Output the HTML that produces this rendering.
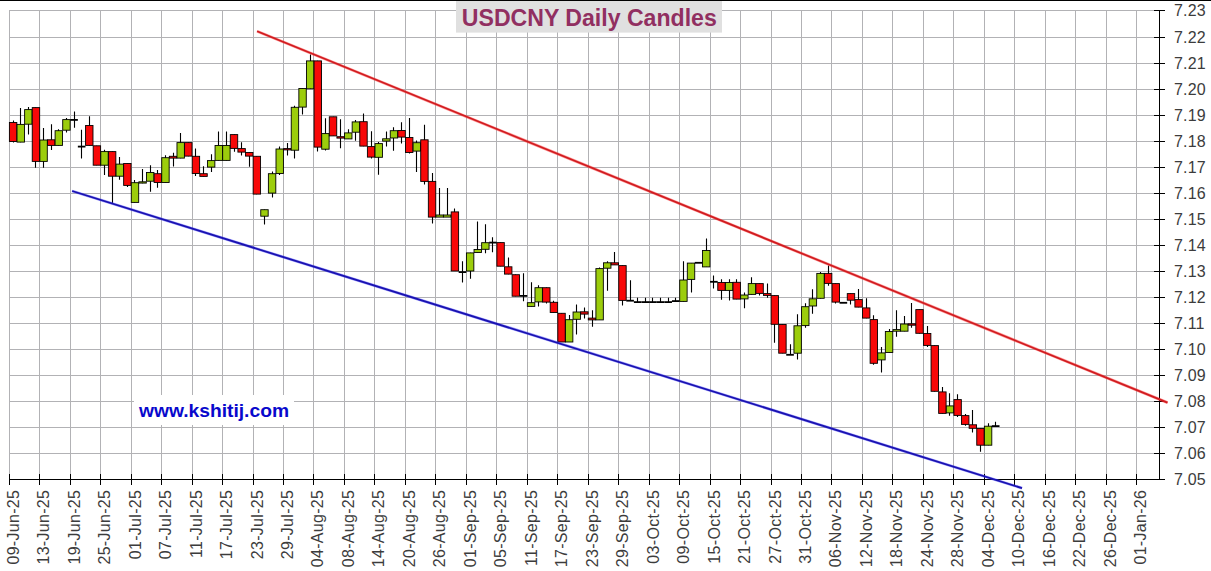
<!DOCTYPE html>
<html lang="en"><head><meta charset="utf-8"><title>USDCNY Daily Candles</title>
<style>
html,body{margin:0;padding:0;background:#fff;}
body{width:1211px;height:571px;overflow:hidden;font-family:"Liberation Sans",Arial,sans-serif;}
svg{display:block;}
</style></head><body>
<svg width="1211" height="571" viewBox="0 0 1211 571">
<rect width="1211" height="571" fill="#fff"/>
<path d="M9.5 10.5V479.5M39.5 10.5V479.5M70.5 10.5V479.5M100.5 10.5V479.5M131.5 10.5V479.5M161.5 10.5V479.5M192.5 10.5V479.5M222.5 10.5V479.5M253.5 10.5V479.5M283.5 10.5V479.5M313.5 10.5V479.5M344.5 10.5V479.5M374.5 10.5V479.5M405.5 10.5V479.5M435.5 10.5V479.5M466.5 10.5V479.5M496.5 10.5V479.5M527.5 10.5V479.5M557.5 10.5V479.5M588.5 10.5V479.5M618.5 10.5V479.5M649.5 10.5V479.5M679.5 10.5V479.5M710.5 10.5V479.5M740.5 10.5V479.5M771.5 10.5V479.5M801.5 10.5V479.5M831.5 10.5V479.5M862.5 10.5V479.5M892.5 10.5V479.5M923.5 10.5V479.5M953.5 10.5V479.5M984.5 10.5V479.5M1014.5 10.5V479.5M1045.5 10.5V479.5M1075.5 10.5V479.5M1106.5 10.5V479.5M1136.5 10.5V479.5M9.0 10.5H1159.5M9.0 37.5H1159.5M9.0 63.5H1159.5M9.0 89.5H1159.5M9.0 115.5H1159.5M9.0 141.5H1159.5M9.0 167.5H1159.5M9.0 193.5H1159.5M9.0 219.5H1159.5M9.0 245.5H1159.5M9.0 271.5H1159.5M9.0 297.5H1159.5M9.0 323.5H1159.5M9.0 349.5H1159.5M9.0 375.5H1159.5M9.0 401.5H1159.5M9.0 427.5H1159.5M9.0 453.5H1159.5M9.0 479.5H1159.5" stroke="#b2b2b5" stroke-width="1" fill="none" shape-rendering="crispEdges"/>
<rect x="134" y="395" width="160" height="30" fill="#fff"/>
<path d="M9.0 479.5H1160.0M1159.5 10.0V480.0M9.5 474V485M39.5 474V485M70.5 474V485M100.5 474V485M131.5 474V485M161.5 474V485M192.5 474V485M222.5 474V485M253.5 474V485M283.5 474V485M313.5 474V485M344.5 474V485M374.5 474V485M405.5 474V485M435.5 474V485M466.5 474V485M496.5 474V485M527.5 474V485M557.5 474V485M588.5 474V485M618.5 474V485M649.5 474V485M679.5 474V485M710.5 474V485M740.5 474V485M771.5 474V485M801.5 474V485M831.5 474V485M862.5 474V485M892.5 474V485M923.5 474V485M953.5 474V485M984.5 474V485M1014.5 474V485M1045.5 474V485M1075.5 474V485M1106.5 474V485M1136.5 474V485M1154 10.5H1165M1154 37.5H1165M1154 63.5H1165M1154 89.5H1165M1154 115.5H1165M1154 141.5H1165M1154 167.5H1165M1154 193.5H1165M1154 219.5H1165M1154 245.5H1165M1154 271.5H1165M1154 297.5H1165M1154 323.5H1165M1154 349.5H1165M1154 375.5H1165M1154 401.5H1165M1154 427.5H1165M1154 453.5H1165M1154 479.5H1165" stroke="#000" stroke-width="1" fill="none" shape-rendering="crispEdges"/>
<rect x="456" y="1" width="266" height="31.6" fill="#e0e0e0"/>
<rect x="0" y="0" width="1211" height="1" fill="#000"/>
<text x="589.3" y="25.7" text-anchor="middle" font-family="Liberation Sans, Arial, sans-serif" font-weight="bold" font-size="23.1" fill="#912f61">USDCNY Daily Candles</text>
<text x="214" y="417.2" text-anchor="middle" font-family="Liberation Sans, Arial, sans-serif" font-weight="bold" font-size="19.25" fill="#0808cc">www.kshitij.com</text>
<g font-family="Liberation Sans, Arial, sans-serif" font-size="16" fill="#3c3c3c">
<text x="1174.0" y="16.2" letter-spacing="0.15">7.23</text>
<text x="1174.0" y="43.2" letter-spacing="0.15">7.22</text>
<text x="1174.0" y="69.2" letter-spacing="0.15">7.21</text>
<text x="1174.0" y="95.2" letter-spacing="0.15">7.20</text>
<text x="1174.0" y="121.2" letter-spacing="0.15">7.19</text>
<text x="1174.0" y="147.2" letter-spacing="0.15">7.18</text>
<text x="1174.0" y="173.2" letter-spacing="0.15">7.17</text>
<text x="1174.0" y="199.2" letter-spacing="0.15">7.16</text>
<text x="1174.0" y="225.2" letter-spacing="0.15">7.15</text>
<text x="1174.0" y="251.2" letter-spacing="0.15">7.14</text>
<text x="1174.0" y="277.2" letter-spacing="0.15">7.13</text>
<text x="1174.0" y="303.2" letter-spacing="0.15">7.12</text>
<text x="1174.0" y="329.2" letter-spacing="0.15">7.11</text>
<text x="1174.0" y="355.2" letter-spacing="0.15">7.10</text>
<text x="1174.0" y="381.2" letter-spacing="0.15">7.09</text>
<text x="1174.0" y="407.2" letter-spacing="0.15">7.08</text>
<text x="1174.0" y="433.2" letter-spacing="0.15">7.07</text>
<text x="1174.0" y="459.2" letter-spacing="0.15">7.06</text>
<text x="1174.0" y="485.2" letter-spacing="0.15">7.05</text>
<text transform="translate(19.2 489.8) rotate(-90)" text-anchor="end" letter-spacing="0.3">09-Jun-25</text>
<text transform="translate(49.2 489.8) rotate(-90)" text-anchor="end" letter-spacing="0.3">13-Jun-25</text>
<text transform="translate(80.2 489.8) rotate(-90)" text-anchor="end" letter-spacing="0.3">19-Jun-25</text>
<text transform="translate(110.2 489.8) rotate(-90)" text-anchor="end" letter-spacing="0.3">25-Jun-25</text>
<text transform="translate(141.2 489.8) rotate(-90)" text-anchor="end" letter-spacing="0.3">01-Jul-25</text>
<text transform="translate(171.2 489.8) rotate(-90)" text-anchor="end" letter-spacing="0.3">07-Jul-25</text>
<text transform="translate(202.2 489.8) rotate(-90)" text-anchor="end" letter-spacing="0.3">11-Jul-25</text>
<text transform="translate(232.2 489.8) rotate(-90)" text-anchor="end" letter-spacing="0.3">17-Jul-25</text>
<text transform="translate(263.2 489.8) rotate(-90)" text-anchor="end" letter-spacing="0.3">23-Jul-25</text>
<text transform="translate(293.2 489.8) rotate(-90)" text-anchor="end" letter-spacing="0.3">29-Jul-25</text>
<text transform="translate(323.2 489.8) rotate(-90)" text-anchor="end" letter-spacing="0.3">04-Aug-25</text>
<text transform="translate(354.2 489.8) rotate(-90)" text-anchor="end" letter-spacing="0.3">08-Aug-25</text>
<text transform="translate(384.2 489.8) rotate(-90)" text-anchor="end" letter-spacing="0.3">14-Aug-25</text>
<text transform="translate(415.2 489.8) rotate(-90)" text-anchor="end" letter-spacing="0.3">20-Aug-25</text>
<text transform="translate(445.2 489.8) rotate(-90)" text-anchor="end" letter-spacing="0.3">26-Aug-25</text>
<text transform="translate(476.2 489.8) rotate(-90)" text-anchor="end" letter-spacing="0.3">01-Sep-25</text>
<text transform="translate(506.2 489.8) rotate(-90)" text-anchor="end" letter-spacing="0.3">05-Sep-25</text>
<text transform="translate(537.2 489.8) rotate(-90)" text-anchor="end" letter-spacing="0.3">11-Sep-25</text>
<text transform="translate(567.2 489.8) rotate(-90)" text-anchor="end" letter-spacing="0.3">17-Sep-25</text>
<text transform="translate(598.2 489.8) rotate(-90)" text-anchor="end" letter-spacing="0.3">23-Sep-25</text>
<text transform="translate(628.2 489.8) rotate(-90)" text-anchor="end" letter-spacing="0.3">29-Sep-25</text>
<text transform="translate(659.2 489.8) rotate(-90)" text-anchor="end" letter-spacing="0.3">03-Oct-25</text>
<text transform="translate(689.2 489.8) rotate(-90)" text-anchor="end" letter-spacing="0.3">09-Oct-25</text>
<text transform="translate(720.2 489.8) rotate(-90)" text-anchor="end" letter-spacing="0.3">15-Oct-25</text>
<text transform="translate(750.2 489.8) rotate(-90)" text-anchor="end" letter-spacing="0.3">21-Oct-25</text>
<text transform="translate(781.2 489.8) rotate(-90)" text-anchor="end" letter-spacing="0.3">27-Oct-25</text>
<text transform="translate(811.2 489.8) rotate(-90)" text-anchor="end" letter-spacing="0.3">31-Oct-25</text>
<text transform="translate(841.2 489.8) rotate(-90)" text-anchor="end" letter-spacing="0.3">06-Nov-25</text>
<text transform="translate(872.2 489.8) rotate(-90)" text-anchor="end" letter-spacing="0.3">12-Nov-25</text>
<text transform="translate(902.2 489.8) rotate(-90)" text-anchor="end" letter-spacing="0.3">18-Nov-25</text>
<text transform="translate(933.2 489.8) rotate(-90)" text-anchor="end" letter-spacing="0.3">24-Nov-25</text>
<text transform="translate(963.2 489.8) rotate(-90)" text-anchor="end" letter-spacing="0.3">28-Nov-25</text>
<text transform="translate(994.2 489.8) rotate(-90)" text-anchor="end" letter-spacing="0.3">04-Dec-25</text>
<text transform="translate(1024.2 489.8) rotate(-90)" text-anchor="end" letter-spacing="0.3">10-Dec-25</text>
<text transform="translate(1055.2 489.8) rotate(-90)" text-anchor="end" letter-spacing="0.3">16-Dec-25</text>
<text transform="translate(1085.2 489.8) rotate(-90)" text-anchor="end" letter-spacing="0.3">22-Dec-25</text>
<text transform="translate(1116.2 489.8) rotate(-90)" text-anchor="end" letter-spacing="0.3">26-Dec-25</text>
<text transform="translate(1146.2 489.8) rotate(-90)" text-anchor="end" letter-spacing="0.3">01-Jan-26</text>
</g>
<path d="M13.5 120.4V142.6M20.5 108.1V142.2M28.5 107.0V134.5M35.5 107.5V167.8M43.5 128.1V167.8M51.5 124.3V149.9M58.5 129.3V145.5M66.5 118.1V132.6M74.5 111.4V127.8M81.5 129.7V158.6M89.5 116.2V145.5M96.5 145.7V165.3M104.5 149.8V175.0M112.5 151.5V203.0M119.5 157.0V179.8M127.5 163.4V186.9M134.5 180.1V202.5M142.5 169.1V183.2M150.5 165.3V191.7M157.5 170.1V187.8M165.5 155.3V182.6M173.5 152.8V166.6M180.5 133.1V158.2M188.5 142.5V156.2M195.5 148.5V175.9M203.5 166.2V176.5M211.5 154.3V172.0M218.5 131.6V160.5M226.5 131.6V160.5M234.5 134.5V151.8M241.5 142.2V155.6M249.5 152.4V166.8M256.5 156.2V194.2M264.5 209.6V224.6M272.5 171.6V197.6M279.5 146.6V174.9M287.5 143.1V155.6M294.5 105.7V158.5M302.5 88.4V114.4M310.5 54.5V88.9M317.5 60.8V151.4M325.5 118.2V150.4M333.5 116.7V136.0M340.5 119.2V148.3M348.5 129.2V139.0M355.5 120.1V140.8M363.5 113.4V146.2M371.5 131.2V158.4M378.5 142.0V174.7M386.5 131.6V146.4M393.5 127.2V150.7M401.5 122.3V143.5M409.5 118.1V153.6M416.5 140.6V171.9M424.5 124.8V184.4M432.5 173.0V223.4M439.5 188.1V217.0M447.5 188.1V217.0M454.5 208.5V271.1M462.5 261.3V282.5M470.5 252.8V278.7M477.5 221.4V252.6M485.5 224.3V253.2M492.5 237.2V252.3M500.5 242.5V266.3M508.5 257.4V274.2M515.5 274.6V296.3M523.5 273.2V301.3M531.5 282.3V306.5M538.5 285.3V306.5M546.5 287.6V303.6M553.5 300.7V312.6M561.5 313.2V342.1M569.5 315.1V342.1M576.5 304.5V334.4M584.5 307.4V318.6M592.5 310.3V326.7M599.5 267.4V320.0M607.5 261.2V290.7M614.5 252.1V265.0M622.5 265.5V305.5M630.5 280.3V300.7M637.5 297.8V302.1M645.5 297.8V302.1M652.5 297.8V302.1M660.5 297.8V302.1M668.5 297.8V302.1M675.5 297.8V301.1M683.5 261.2V301.5M691.5 263.0V292.4M706.5 238.5V267.0M713.5 275.5V288.6M721.5 279.3V299.8M729.5 279.3V300.5M736.5 279.3V299.2M744.5 292.6V308.3M751.5 277.2V294.5M759.5 283.5V295.5M767.5 283.5V297.8M774.5 295.5V342.7M782.5 324.4V353.3M790.5 344.2V354.8M797.5 314.3V359.6M805.5 303.2V327.8M812.5 289.3V313.8M820.5 272.0V298.4M828.5 265.6V285.8M835.5 283.5V303.6M850.5 293.5V304.5M858.5 289.0V307.2M866.5 298.3V318.2M873.5 315.3V364.8M881.5 347.1V372.5M889.5 329.1V352.6M896.5 310.3V336.8M904.5 316.0V331.3M911.5 303.1V327.8M919.5 309.5V333.4M927.5 325.9V346.9M934.5 345.5V391.4M942.5 387.0V413.5M949.5 393.3V415.8M957.5 394.3V417.0M965.5 414.1V425.7M972.5 410.1V432.4M980.5 428.4V451.7M988.5 423.2V445.3M995.5 421.8V426.1" stroke="#000" stroke-width="1.1" fill="none"/>
<rect x="9.40" y="122.5" width="7.42" height="19.0" fill="#f80808" stroke="#000" stroke-width="0.9"/>
<rect x="17.02" y="124.4" width="7.42" height="17.7" fill="#9ccd0c" stroke="#000" stroke-width="0.9"/>
<rect x="24.63" y="109.6" width="7.42" height="14.6" fill="#9ccd0c" stroke="#000" stroke-width="0.9"/>
<rect x="32.25" y="107.6" width="7.42" height="53.8" fill="#f80808" stroke="#000" stroke-width="0.9"/>
<rect x="39.87" y="140.0" width="7.42" height="21.4" fill="#9ccd0c" stroke="#000" stroke-width="0.9"/>
<rect x="47.49" y="139.8" width="7.42" height="5.6" fill="#f80808" stroke="#000" stroke-width="0.9"/>
<rect x="55.10" y="130.7" width="7.42" height="14.7" fill="#9ccd0c" stroke="#000" stroke-width="0.9"/>
<rect x="62.72" y="119.6" width="7.42" height="10.6" fill="#9ccd0c" stroke="#000" stroke-width="0.9"/>
<rect x="70.24" y="119.0" width="7.62" height="1.8" fill="#000"/>
<rect x="77.85" y="145.7" width="7.62" height="1.8" fill="#000"/>
<rect x="85.57" y="125.5" width="7.42" height="19.9" fill="#f80808" stroke="#000" stroke-width="0.9"/>
<rect x="93.19" y="145.8" width="7.42" height="19.4" fill="#f80808" stroke="#000" stroke-width="0.9"/>
<rect x="100.80" y="151.6" width="7.42" height="13.6" fill="#9ccd0c" stroke="#000" stroke-width="0.9"/>
<rect x="108.42" y="151.6" width="7.42" height="24.6" fill="#f80808" stroke="#000" stroke-width="0.9"/>
<rect x="116.04" y="164.1" width="7.42" height="12.1" fill="#9ccd0c" stroke="#000" stroke-width="0.9"/>
<rect x="123.65" y="163.5" width="7.42" height="21.9" fill="#f80808" stroke="#000" stroke-width="0.9"/>
<rect x="131.27" y="182.7" width="7.42" height="19.7" fill="#9ccd0c" stroke="#000" stroke-width="0.9"/>
<rect x="138.89" y="181.8" width="7.42" height="1.3" fill="#9ccd0c" stroke="#000" stroke-width="0.9"/>
<rect x="146.51" y="172.5" width="7.42" height="8.7" fill="#9ccd0c" stroke="#000" stroke-width="0.9"/>
<rect x="154.12" y="173.7" width="7.42" height="8.8" fill="#f80808" stroke="#000" stroke-width="0.9"/>
<rect x="161.74" y="157.7" width="7.42" height="24.8" fill="#9ccd0c" stroke="#000" stroke-width="0.9"/>
<rect x="169.36" y="156.3" width="7.42" height="1.8" fill="#f80808" stroke="#000" stroke-width="0.9"/>
<rect x="176.97" y="142.6" width="7.42" height="15.5" fill="#9ccd0c" stroke="#000" stroke-width="0.9"/>
<rect x="184.59" y="142.6" width="7.42" height="13.5" fill="#f80808" stroke="#000" stroke-width="0.9"/>
<rect x="192.21" y="156.3" width="7.42" height="17.2" fill="#f80808" stroke="#000" stroke-width="0.9"/>
<rect x="199.83" y="173.7" width="7.42" height="2.7" fill="#f80808" stroke="#000" stroke-width="0.9"/>
<rect x="207.44" y="160.6" width="7.42" height="6.5" fill="#9ccd0c" stroke="#000" stroke-width="0.9"/>
<rect x="215.06" y="145.5" width="7.42" height="14.9" fill="#9ccd0c" stroke="#000" stroke-width="0.9"/>
<rect x="222.68" y="145.5" width="7.42" height="14.9" fill="#9ccd0c" stroke="#000" stroke-width="0.9"/>
<rect x="230.29" y="134.6" width="7.42" height="13.8" fill="#f80808" stroke="#000" stroke-width="0.9"/>
<rect x="237.91" y="148.6" width="7.42" height="3.5" fill="#f80808" stroke="#000" stroke-width="0.9"/>
<rect x="245.53" y="152.5" width="7.42" height="3.6" fill="#f80808" stroke="#000" stroke-width="0.9"/>
<rect x="253.14" y="156.3" width="7.42" height="37.8" fill="#f80808" stroke="#000" stroke-width="0.9"/>
<rect x="260.76" y="209.7" width="7.42" height="6.5" fill="#9ccd0c" stroke="#000" stroke-width="0.9"/>
<rect x="268.38" y="173.7" width="7.42" height="19.4" fill="#9ccd0c" stroke="#000" stroke-width="0.9"/>
<rect x="276.00" y="149.0" width="7.42" height="24.5" fill="#9ccd0c" stroke="#000" stroke-width="0.9"/>
<rect x="283.61" y="148.6" width="7.42" height="1.3" fill="#f80808" stroke="#000" stroke-width="0.9"/>
<rect x="291.23" y="107.3" width="7.42" height="42.9" fill="#9ccd0c" stroke="#000" stroke-width="0.9"/>
<rect x="298.85" y="88.5" width="7.42" height="18.6" fill="#9ccd0c" stroke="#000" stroke-width="0.9"/>
<rect x="306.46" y="60.9" width="7.42" height="27.9" fill="#9ccd0c" stroke="#000" stroke-width="0.9"/>
<rect x="314.08" y="60.9" width="7.42" height="86.2" fill="#f80808" stroke="#000" stroke-width="0.9"/>
<rect x="321.70" y="133.6" width="7.42" height="15.6" fill="#9ccd0c" stroke="#000" stroke-width="0.9"/>
<rect x="329.31" y="116.8" width="7.42" height="19.1" fill="#f80808" stroke="#000" stroke-width="0.9"/>
<rect x="336.93" y="136.7" width="7.42" height="1.4" fill="#f80808" stroke="#000" stroke-width="0.9"/>
<rect x="344.55" y="132.9" width="7.42" height="6.0" fill="#9ccd0c" stroke="#000" stroke-width="0.9"/>
<rect x="352.17" y="121.9" width="7.42" height="10.3" fill="#9ccd0c" stroke="#000" stroke-width="0.9"/>
<rect x="359.78" y="121.7" width="7.42" height="24.4" fill="#f80808" stroke="#000" stroke-width="0.9"/>
<rect x="367.40" y="146.6" width="7.42" height="10.5" fill="#f80808" stroke="#000" stroke-width="0.9"/>
<rect x="375.02" y="143.6" width="7.42" height="13.7" fill="#9ccd0c" stroke="#000" stroke-width="0.9"/>
<rect x="382.63" y="138.8" width="7.42" height="2.3" fill="#9ccd0c" stroke="#000" stroke-width="0.9"/>
<rect x="390.25" y="130.7" width="7.42" height="7.3" fill="#9ccd0c" stroke="#000" stroke-width="0.9"/>
<rect x="397.87" y="130.5" width="7.42" height="6.6" fill="#f80808" stroke="#000" stroke-width="0.9"/>
<rect x="405.48" y="137.5" width="7.42" height="15.0" fill="#f80808" stroke="#000" stroke-width="0.9"/>
<rect x="413.10" y="142.7" width="7.42" height="8.4" fill="#9ccd0c" stroke="#000" stroke-width="0.9"/>
<rect x="420.72" y="139.8" width="7.42" height="41.6" fill="#f80808" stroke="#000" stroke-width="0.9"/>
<rect x="428.34" y="181.4" width="7.42" height="35.7" fill="#f80808" stroke="#000" stroke-width="0.9"/>
<rect x="435.95" y="215.0" width="7.42" height="2.1" fill="#9ccd0c" stroke="#000" stroke-width="0.9"/>
<rect x="443.57" y="215.0" width="7.42" height="2.1" fill="#9ccd0c" stroke="#000" stroke-width="0.9"/>
<rect x="451.19" y="211.9" width="7.42" height="59.1" fill="#f80808" stroke="#000" stroke-width="0.9"/>
<rect x="458.70" y="271.2" width="7.62" height="1.8" fill="#000"/>
<rect x="466.42" y="252.9" width="7.42" height="18.1" fill="#9ccd0c" stroke="#000" stroke-width="0.9"/>
<rect x="474.04" y="249.5" width="7.42" height="3.0" fill="#9ccd0c" stroke="#000" stroke-width="0.9"/>
<rect x="481.65" y="242.7" width="7.42" height="6.6" fill="#9ccd0c" stroke="#000" stroke-width="0.9"/>
<rect x="489.17" y="241.7" width="7.62" height="1.8" fill="#000"/>
<rect x="496.89" y="242.6" width="7.42" height="23.6" fill="#f80808" stroke="#000" stroke-width="0.9"/>
<rect x="504.51" y="266.8" width="7.42" height="7.3" fill="#f80808" stroke="#000" stroke-width="0.9"/>
<rect x="512.12" y="274.7" width="7.42" height="21.5" fill="#f80808" stroke="#000" stroke-width="0.9"/>
<rect x="519.64" y="295.0" width="7.62" height="1.8" fill="#000"/>
<rect x="527.36" y="302.7" width="7.42" height="3.7" fill="#9ccd0c" stroke="#000" stroke-width="0.9"/>
<rect x="534.97" y="287.7" width="7.42" height="14.2" fill="#9ccd0c" stroke="#000" stroke-width="0.9"/>
<rect x="542.59" y="287.7" width="7.42" height="14.4" fill="#f80808" stroke="#000" stroke-width="0.9"/>
<rect x="550.21" y="302.3" width="7.42" height="10.2" fill="#f80808" stroke="#000" stroke-width="0.9"/>
<rect x="557.82" y="313.3" width="7.42" height="28.7" fill="#f80808" stroke="#000" stroke-width="0.9"/>
<rect x="565.44" y="319.7" width="7.42" height="22.3" fill="#9ccd0c" stroke="#000" stroke-width="0.9"/>
<rect x="573.06" y="312.0" width="7.42" height="7.3" fill="#9ccd0c" stroke="#000" stroke-width="0.9"/>
<rect x="580.67" y="311.8" width="7.42" height="2.3" fill="#f80808" stroke="#000" stroke-width="0.9"/>
<rect x="588.29" y="318.1" width="7.42" height="1.8" fill="#f80808" stroke="#000" stroke-width="0.9"/>
<rect x="595.91" y="268.6" width="7.42" height="51.3" fill="#9ccd0c" stroke="#000" stroke-width="0.9"/>
<rect x="603.53" y="262.8" width="7.42" height="5.4" fill="#9ccd0c" stroke="#000" stroke-width="0.9"/>
<rect x="611.14" y="262.8" width="7.42" height="2.1" fill="#f80808" stroke="#000" stroke-width="0.9"/>
<rect x="618.76" y="265.6" width="7.42" height="34.8" fill="#f80808" stroke="#000" stroke-width="0.9"/>
<rect x="626.28" y="299.8" width="7.62" height="1.8" fill="#000"/>
<rect x="633.89" y="301.2" width="7.62" height="1.8" fill="#000"/>
<rect x="641.51" y="301.2" width="7.62" height="1.8" fill="#000"/>
<rect x="649.13" y="301.2" width="7.62" height="1.8" fill="#000"/>
<rect x="656.75" y="301.2" width="7.62" height="1.8" fill="#000"/>
<rect x="664.36" y="301.2" width="7.62" height="1.8" fill="#000"/>
<rect x="671.98" y="300.2" width="7.62" height="1.8" fill="#000"/>
<rect x="679.70" y="280.0" width="7.42" height="21.4" fill="#9ccd0c" stroke="#000" stroke-width="0.9"/>
<rect x="687.31" y="263.1" width="7.42" height="16.3" fill="#9ccd0c" stroke="#000" stroke-width="0.9"/>
<rect x="694.83" y="261.9" width="7.62" height="1.8" fill="#000"/>
<rect x="702.55" y="250.5" width="7.42" height="16.4" fill="#9ccd0c" stroke="#000" stroke-width="0.9"/>
<rect x="710.06" y="280.9" width="7.62" height="1.8" fill="#000"/>
<rect x="717.78" y="282.5" width="7.42" height="7.9" fill="#f80808" stroke="#000" stroke-width="0.9"/>
<rect x="725.40" y="282.5" width="7.42" height="7.9" fill="#9ccd0c" stroke="#000" stroke-width="0.9"/>
<rect x="733.01" y="282.3" width="7.42" height="16.8" fill="#f80808" stroke="#000" stroke-width="0.9"/>
<rect x="740.63" y="295.0" width="7.42" height="3.9" fill="#9ccd0c" stroke="#000" stroke-width="0.9"/>
<rect x="748.25" y="283.6" width="7.42" height="10.8" fill="#9ccd0c" stroke="#000" stroke-width="0.9"/>
<rect x="755.87" y="283.6" width="7.42" height="9.8" fill="#f80808" stroke="#000" stroke-width="0.9"/>
<rect x="763.48" y="293.6" width="7.42" height="1.8" fill="#f80808" stroke="#000" stroke-width="0.9"/>
<rect x="771.10" y="295.6" width="7.42" height="28.7" fill="#f80808" stroke="#000" stroke-width="0.9"/>
<rect x="778.72" y="324.5" width="7.42" height="28.7" fill="#f80808" stroke="#000" stroke-width="0.9"/>
<rect x="786.23" y="353.9" width="7.62" height="1.8" fill="#000"/>
<rect x="793.95" y="325.8" width="7.42" height="27.4" fill="#9ccd0c" stroke="#000" stroke-width="0.9"/>
<rect x="801.57" y="306.7" width="7.42" height="18.9" fill="#9ccd0c" stroke="#000" stroke-width="0.9"/>
<rect x="809.18" y="298.8" width="7.42" height="7.2" fill="#9ccd0c" stroke="#000" stroke-width="0.9"/>
<rect x="816.80" y="273.4" width="7.42" height="24.9" fill="#9ccd0c" stroke="#000" stroke-width="0.9"/>
<rect x="824.42" y="273.4" width="7.42" height="10.0" fill="#f80808" stroke="#000" stroke-width="0.9"/>
<rect x="832.04" y="283.6" width="7.42" height="18.5" fill="#f80808" stroke="#000" stroke-width="0.9"/>
<rect x="839.55" y="301.9" width="7.62" height="1.8" fill="#000"/>
<rect x="847.27" y="293.6" width="7.42" height="6.6" fill="#f80808" stroke="#000" stroke-width="0.9"/>
<rect x="854.89" y="299.6" width="7.42" height="7.5" fill="#f80808" stroke="#000" stroke-width="0.9"/>
<rect x="862.50" y="307.9" width="7.42" height="10.2" fill="#f80808" stroke="#000" stroke-width="0.9"/>
<rect x="870.12" y="319.6" width="7.42" height="43.7" fill="#f80808" stroke="#000" stroke-width="0.9"/>
<rect x="877.74" y="352.9" width="7.42" height="7.0" fill="#9ccd0c" stroke="#000" stroke-width="0.9"/>
<rect x="885.36" y="331.5" width="7.42" height="21.0" fill="#9ccd0c" stroke="#000" stroke-width="0.9"/>
<rect x="892.97" y="329.6" width="7.42" height="1.6" fill="#9ccd0c" stroke="#000" stroke-width="0.9"/>
<rect x="900.59" y="324.0" width="7.42" height="7.2" fill="#9ccd0c" stroke="#000" stroke-width="0.9"/>
<rect x="908.21" y="323.8" width="7.42" height="1.4" fill="#f80808" stroke="#000" stroke-width="0.9"/>
<rect x="915.82" y="309.6" width="7.42" height="23.7" fill="#f80808" stroke="#000" stroke-width="0.9"/>
<rect x="923.44" y="333.5" width="7.42" height="11.9" fill="#f80808" stroke="#000" stroke-width="0.9"/>
<rect x="931.06" y="345.6" width="7.42" height="45.7" fill="#f80808" stroke="#000" stroke-width="0.9"/>
<rect x="938.67" y="391.9" width="7.42" height="21.5" fill="#f80808" stroke="#000" stroke-width="0.9"/>
<rect x="946.29" y="405.9" width="7.42" height="7.0" fill="#9ccd0c" stroke="#000" stroke-width="0.9"/>
<rect x="953.91" y="399.6" width="7.42" height="15.8" fill="#f80808" stroke="#000" stroke-width="0.9"/>
<rect x="961.52" y="415.6" width="7.42" height="8.8" fill="#f80808" stroke="#000" stroke-width="0.9"/>
<rect x="969.14" y="424.8" width="7.42" height="3.5" fill="#f80808" stroke="#000" stroke-width="0.9"/>
<rect x="976.76" y="428.5" width="7.42" height="16.7" fill="#f80808" stroke="#000" stroke-width="0.9"/>
<rect x="984.38" y="426.2" width="7.42" height="19.0" fill="#9ccd0c" stroke="#000" stroke-width="0.9"/>
<rect x="991.89" y="425.2" width="7.62" height="1.8" fill="#000"/>
<path d="M257.1 31.3L1167.5 402.6" stroke="#ff3030" stroke-opacity="0.5" stroke-width="2.8" fill="none"/>
<path d="M257.1 31.3L1167.5 402.6" stroke="#d01c20" stroke-width="1.7" fill="none"/>
<path d="M72.1 191L1022 488.1" stroke="#4040ff" stroke-opacity="0.5" stroke-width="2.8" fill="none"/>
<path d="M72.1 191L1022 488.1" stroke="#1a12b0" stroke-width="1.8" fill="none"/>
</svg>
</body></html>
